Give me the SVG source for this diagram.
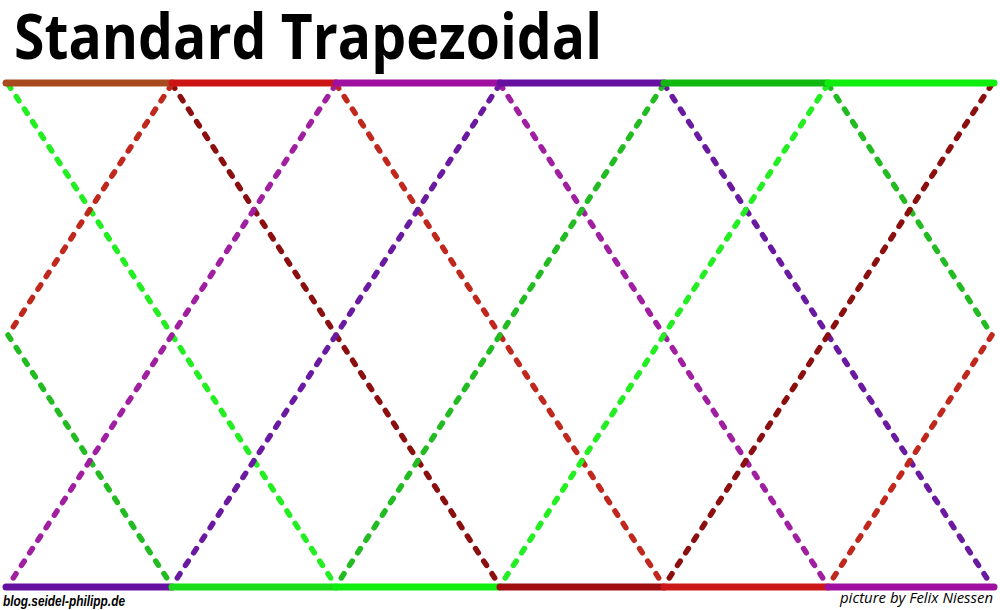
<svg xmlns="http://www.w3.org/2000/svg" width="1000" height="610" viewBox="0 0 1000 610">
<style>
.ln{fill:none;stroke-width:5.5;stroke-linecap:round;stroke-dasharray:5 10}
.bar{fill:none;stroke-width:7;stroke-linecap:round}
.lg{stroke:#22ee22}.mg{stroke:#22bb22}.dr{stroke:#8b0f0f}.rd{stroke:#c0281e}.mp{stroke:#a01ea0}.vi{stroke:#6a1aa0}
.title{font-family:"Open Sans","Liberation Sans",sans-serif;font-weight:700;font-size:62px;fill:#000}
.foot{font-family:"Liberation Sans",Arial,sans-serif;font-size:14px;fill:#000}
.credit{font-family:"Open Sans","Liberation Sans",sans-serif;font-style:italic;font-size:15px;fill:#000}
</style>
<rect width="1000" height="610" fill="#fff"/>
<g id="title"><text class="title" x="14" y="59" textLength="588" lengthAdjust="spacingAndGlyphs">Standard Trapezoidal</text></g>
<g id="connectors">
<line class="ln lg" x1="8" y1="84" x2="336" y2="586"/>
<line class="ln dr" x1="172" y1="84" x2="500" y2="586"/>
<line class="ln rd" x1="336" y1="84" x2="664" y2="586"/>
<line class="ln mp" x1="500" y1="84" x2="828" y2="586"/>
<line class="ln vi" x1="664" y1="84" x2="992" y2="586"/>
<line class="ln mg" x1="828" y1="84" x2="992" y2="335"/>
<line class="ln mg" x1="8" y1="335" x2="172" y2="586"/>
<line class="ln dr" x1="992" y1="84" x2="664" y2="586"/>
<line class="ln lg" x1="828" y1="84" x2="500" y2="586"/>
<line class="ln mg" x1="664" y1="84" x2="336" y2="586"/>
<line class="ln vi" x1="500" y1="84" x2="172" y2="586"/>
<line class="ln mp" x1="336" y1="84" x2="8" y2="586"/>
<line class="ln rd" x1="172" y1="84" x2="8" y2="335"/>
<line class="ln rd" x1="992" y1="335" x2="828" y2="586"/>
</g>
<g id="top-bar">
<line class="bar" stroke="#a84a1e" x1="6" y1="83" x2="172" y2="83"/>
<line class="bar" stroke="#cc1414" x1="172" y1="83" x2="336" y2="83"/>
<line class="bar" stroke="#a010a0" x1="336" y1="83" x2="500" y2="83"/>
<line class="bar" stroke="#6610a0" x1="500" y1="83" x2="664" y2="83"/>
<line class="bar" stroke="#10b810" x1="664" y1="83" x2="828" y2="83"/>
<line class="bar" stroke="#10ee10" x1="828" y1="83" x2="994" y2="83"/>
</g>
<g id="bottom-bar">
<line class="bar" stroke="#6610a0" x1="6" y1="587" x2="172" y2="587"/>
<line class="bar" stroke="#18dd18" x1="172" y1="587" x2="336" y2="587"/>
<line class="bar" stroke="#10ee10" x1="336" y1="587" x2="500" y2="587"/>
<line class="bar" stroke="#a00e0e" x1="500" y1="587" x2="664" y2="587"/>
<line class="bar" stroke="#cc1818" x1="664" y1="587" x2="828" y2="587"/>
<line class="bar" stroke="#a010a0" x1="828" y1="587" x2="994" y2="587"/>
</g>
<g id="footer">
<text class="foot" x="3" y="606" font-weight="700" font-style="italic" textLength="122" lengthAdjust="spacingAndGlyphs">blog.seidel-philipp.de</text>
<text class="credit" x="840" y="603" textLength="153" lengthAdjust="spacingAndGlyphs">picture by Felix Niessen</text>
</g>
</svg>
